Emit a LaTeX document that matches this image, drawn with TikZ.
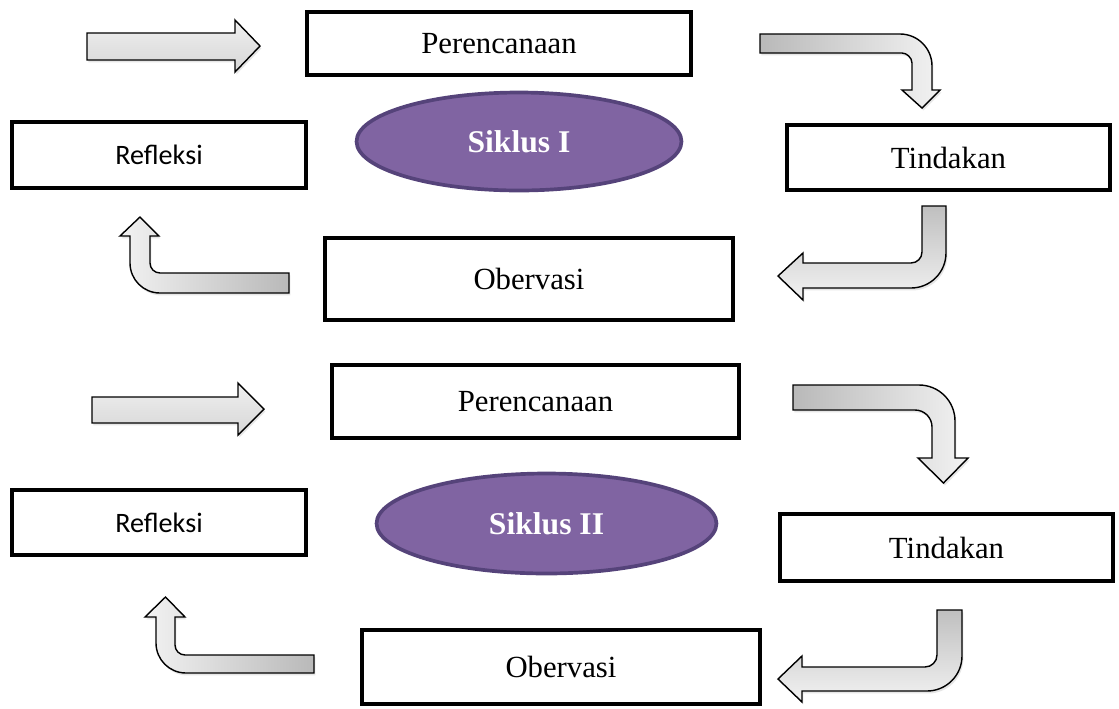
\documentclass[tikz,border=0pt]{standalone}
\usepackage{fontspec}
\setmainfont{Liberation Serif}
\newfontfamily\calibri{Carlito}
\usetikzlibrary{shapes.geometric,shadows}
\definecolor{siklusfill}{HTML}{8064A2}
\definecolor{siklusdraw}{HTML}{55437A}
\begin{document}
\begin{tikzpicture}[x=0.02cm,y=-0.02cm]
      \tikzstyle{kotak} = [line width=2pt, draw=black, fill=white, rectangle, inner sep=0pt, align=center, font=\fontsize{17.5}{21}\selectfont]
      \tikzstyle{siklus} = [line width=2.1pt, draw=siklusdraw, fill=siklusfill, ellipse, inner sep=0pt, text=white, font=\fontsize{18}{21}\selectfont\bfseries]
      \tikzstyle{panah} = [line width=0.8pt, draw=black, drop shadow={shadow xshift=0.8pt, shadow yshift=-1.4pt, opacity=0.2}]
      \useasboundingbox (0,0) rectangle (1119,708);

      % siklus I
      \node[kotak, minimum width=7.68cm, minimum height=1.26cm] (p1) at (499,43.5) {Perencanaan};
      \node[kotak, minimum width=5.88cm, minimum height=1.32cm, font=\calibri\fontsize{16}{19}\selectfont] (r1) at (159,155) {Refleksi};
      \node[kotak, minimum width=6.46cm, minimum height=1.30cm] (t1) at (948.5,157.5) {Tindakan};
      \node[kotak, minimum width=8.16cm, minimum height=1.64cm] (o1) at (529,279) {Obervasi};
      \node[siklus, minimum width=6.5cm, minimum height=1.96cm] (s1) at (519,141.5) {Siklus I};

      \path[panah, top color=gray!12, bottom color=gray!32] (87,33) -- (235,33) -- (235,20) -- (260,46) -- (235,72) -- (235,60) -- (87,60) -- cycle;
      \path[panah, left color=gray!55, right color=gray!10] (760,34) -- (900,34) .. controls (917.7,34) and (932,48.3) .. (932,66) -- (932,90) -- (940,90) -- (922,108) -- (902,90) -- (912,90) -- (912,63) .. controls (912,57.5) and (906.5,53) .. (902,53) -- (760,53) -- cycle;
      \path[panah, top color=gray!50, bottom color=gray!10] (922,206) -- (946,206) -- (946,253) .. controls (946,272.3) and (930.3,288) .. (911,288) -- (803,288) -- (803,300) -- (778,276) -- (803,253) -- (803,263) -- (911,263) .. controls (917.1,263) and (922,258.1) .. (922,252) -- cycle;
      \path[panah, left color=gray!10, right color=gray!55] (289,273) -- (289,293) -- (160,293) .. controls (143.4,293) and (130,279.6) .. (130,263) -- (130,236) -- (120,236) -- (140,217) -- (159,236) -- (150,236) -- (150,263) .. controls (150,268.5) and (154.5,273) .. (160,273) -- cycle;

      % siklus II
      \node[kotak, minimum width=8.14cm, minimum height=1.46cm] (p2) at (535.5,401.5) {Perencanaan};
      \node[kotak, minimum width=5.88cm, minimum height=1.30cm, font=\calibri\fontsize{16}{19}\selectfont] (r2) at (159,522.5) {Refleksi};
      \node[kotak, minimum width=6.66cm, minimum height=1.34cm] (t2) at (946.5,547.5) {Tindakan};
      \node[kotak, minimum width=7.96cm, minimum height=1.48cm] (o2) at (561,667) {Obervasi};
      \node[siklus, minimum width=6.8cm, minimum height=2.0cm] (s2) at (546.5,523.5) {Siklus II};

      \path[panah, top color=gray!12, bottom color=gray!32] (92,397) -- (238,397) -- (238,383) -- (264,409) -- (238,435) -- (238,423) -- (92,423) -- cycle;
      \path[panah, left color=gray!55, right color=gray!10] (793,385) -- (919,385) .. controls (938.9,385) and (955,401.1) .. (955,421) -- (955,458) -- (968,458) -- (943.5,483) -- (918,458) -- (932,458) -- (932,427) .. controls (932,417.6) and (924.4,410) .. (915,410) -- (793,410) -- cycle;
      \path[panah, top color=gray!50, bottom color=gray!10] (937,610) -- (962,610) -- (962,656) .. controls (962,675.3) and (946.3,691) .. (927,691) -- (802,691) -- (802,702) -- (778,679) -- (802,656) -- (802,667) -- (925,667) .. controls (931.6,667) and (937,661.6) .. (937,655) -- cycle;
      \path[panah, left color=gray!10, right color=gray!55] (314,655) -- (314,673) -- (186,673) .. controls (169.4,673) and (156,659.6) .. (156,643) -- (156,617) -- (145,617) -- (165.5,597) -- (185,617) -- (175,617) -- (175,645) .. controls (175,650.5) and (179.5,655) .. (185,655) -- cycle;
    \end{tikzpicture}
\end{document}
